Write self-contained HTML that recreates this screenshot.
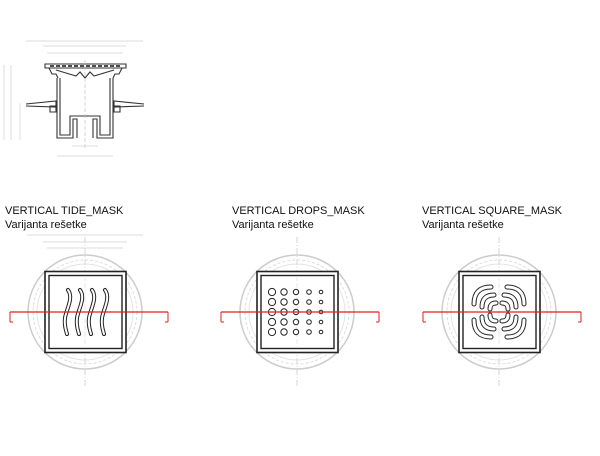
<!DOCTYPE html>
<html><head><meta charset="utf-8"><style>
html,body{margin:0;padding:0;background:#fff;}
svg{display:block;}
text{font-family:"Liberation Sans",sans-serif;}
</style></head><body>
<svg width="600" height="456" viewBox="0 0 600 456" xmlns="http://www.w3.org/2000/svg">
<defs>
<g id="plan">
  <circle cx="0" cy="0" r="57" fill="none" stroke="#ccc" stroke-width="1.5"/>
  <circle cx="0" cy="0" r="52" fill="none" stroke="#ddd" stroke-width="1" stroke-dasharray="3 2"/>
  <circle cx="0" cy="0" r="48" fill="none" stroke="#e4e4e4" stroke-width="1"/>
  <line x1="0" y1="-75" x2="0" y2="75" stroke="#ccc" stroke-width="0.8" stroke-dasharray="6 2 1 2"/>
  <rect x="-40" y="-40.5" width="81" height="81" fill="#fff" stroke="#222" stroke-width="1.6"/>
  <rect x="-36" y="-36.5" width="73" height="73" fill="none" stroke="#222" stroke-width="1.4"/>
  <line x1="0" y1="-36" x2="0" y2="36" stroke="#ddd" stroke-width="0.6" stroke-dasharray="5 2"/>
</g>
<g id="red">
  <line x1="-75" y1="0" x2="83" y2="0" stroke="#d22" stroke-width="1.2"/>
  <path d="M-75 0 v10 M-75 10 h3 M83 0 v10 M83 10 h-3" stroke="#d22" stroke-width="1" fill="none"/>
</g>
</defs>

<!-- section drawing -->
<g stroke="#333" fill="none" stroke-width="1.1">
  <line x1="26" y1="41" x2="143" y2="41" stroke="#bbb" stroke-width="0.5"/>
  <line x1="43" y1="46" x2="126" y2="46" stroke="#bbb" stroke-width="0.5"/>
  <line x1="47" y1="53" x2="123" y2="53" stroke="#bbb" stroke-width="0.5"/>
  <line x1="57" y1="156" x2="113" y2="156" stroke="#bbb" stroke-width="0.5"/>
  <line x1="72" y1="146" x2="98" y2="146" stroke="#bbb" stroke-width="0.5"/>
  <line x1="4" y1="65" x2="4" y2="140" stroke="#bbb" stroke-width="0.5"/>
  <line x1="11" y1="65" x2="11" y2="140" stroke="#bbb" stroke-width="0.5"/>
  <line x1="20" y1="103" x2="20" y2="140" stroke="#bbb" stroke-width="0.5"/>
  <path d="M45 64 h81 v4 h-81 z"/>
  <path d="M49 68 l3 6 h4 l2 4 M122 68 l-3 6 h-4 l-2 4"/>
  <path d="M56 70 l20 6 l4 -4 l5 6 l5 -6 l4 4 l20 -6" />
  <path d="M50 66 h70" stroke-dasharray="4 2" stroke-width="1.8"/>
  <path d="M57 78 v40 M113 78 v40 M60 78 v40 M110 78 v40"/>
  <path d="M26 104 l30 -3 v6 l-30 -1 M144 104 l-30 -3 v6 l30 -1"/>
  <path d="M50 106 h6 v6 h-6 z M114 106 h6 v6 h-6 z"/>
  <path d="M57 118 v20 h16 v-19 h4 v19 M113 118 v20 h-16 v-19 h-4 v19"/>
  <path d="M60 118 v17 h10 v-19 h30 v19 h10 v-17"/>
  <line x1="85" y1="60" x2="85" y2="150" stroke="#bbb" stroke-dasharray="4 2" stroke-width="0.6"/>
</g>

<!-- titles -->
<g font-size="11" fill="#111">
  <text x="5" y="214">VERTICAL TIDE_MASK</text>
  <text x="5" y="228">Varijanta rešetke</text>
  <text x="232" y="214">VERTICAL DROPS_MASK</text>
  <text x="232" y="228">Varijanta rešetke</text>
  <text x="422" y="214">VERTICAL SQUARE_MASK</text>
  <text x="422" y="228">Varijanta rešetke</text>
</g>

<!-- plan 1 -->
<g transform="translate(85,312)">
  <g stroke="#bbb" stroke-width="0.5"><line x1="-58" y1="-77" x2="58" y2="-77"/><line x1="-42" y1="-70" x2="42" y2="-70"/><line x1="-38" y1="-64" x2="38" y2="-64"/></g>
  <use href="#plan"/>
  <g fill="none" stroke="#222" stroke-width="4" stroke-linecap="round">
    <path id="w" d="M-17 -22 c6 8 -2 20 -3 28 c-1 8 1 12 2 16"/>
    <use href="#w" transform="translate(12,0)"/><use href="#w" transform="translate(24,0)"/><use href="#w" transform="translate(37,0)"/>
  </g>
  <g fill="none" stroke="#fff" stroke-width="2" stroke-linecap="round">
    <use href="#w"/><use href="#w" transform="translate(12,0)"/><use href="#w" transform="translate(24,0)"/><use href="#w" transform="translate(37,0)"/>
  </g>
  <use href="#red"/>
</g>

<!-- plan 2 -->
<g transform="translate(297,312)">
  <use href="#plan"/>
  <g fill="none" stroke="#222" stroke-width="1">
    <g><circle cx="-25" cy="-20" r="3.6"/><circle cx="-25" cy="-10" r="3.6"/><circle cx="-25" cy="0" r="3.6"/><circle cx="-25" cy="10" r="3.6"/><circle cx="-25" cy="20" r="3.6"/></g>
    <g transform="translate(12,0)"><circle cx="-25" cy="-20" r="3.2"/><circle cx="-25" cy="-10" r="3.2"/><circle cx="-25" cy="0" r="3.2"/><circle cx="-25" cy="10" r="3.2"/><circle cx="-25" cy="20" r="3.2"/></g>
    <g transform="translate(24,0)"><circle cx="-25" cy="-20" r="2.7"/><circle cx="-25" cy="-10" r="2.7"/><circle cx="-25" cy="0" r="2.7"/><circle cx="-25" cy="10" r="2.7"/><circle cx="-25" cy="20" r="2.7"/></g>
    <g transform="translate(37,0)"><circle cx="-25" cy="-20" r="2.3"/><circle cx="-25" cy="-10" r="2.3"/><circle cx="-25" cy="0" r="2.3"/><circle cx="-25" cy="10" r="2.3"/><circle cx="-25" cy="20" r="2.3"/></g>
    <g transform="translate(49,0)"><circle cx="-25" cy="-20" r="1.8"/><circle cx="-25" cy="-10" r="1.8"/><circle cx="-25" cy="0" r="1.8"/><circle cx="-25" cy="10" r="1.8"/><circle cx="-25" cy="20" r="1.8"/></g>
  </g>
  <use href="#red" transform="translate(-1,0)"/>
</g>

<!-- plan 3 -->
<g transform="translate(499,312)">
  <use href="#plan"/>
  <g id="q">
    <g fill="none" stroke="#222" stroke-width="5" stroke-linecap="round">
      <path d="M-25 -8 Q-25 -25 -8 -25"/>
      <path d="M-17 -5 Q-17 -17 -5 -17"/>
      <path d="M-9 -3 Q-9 -9 -3 -9"/>
    </g>
    <g fill="none" stroke="#fff" stroke-width="3" stroke-linecap="round">
      <path d="M-25 -8 Q-25 -25 -8 -25"/>
      <path d="M-17 -5 Q-17 -17 -5 -17"/>
      <path d="M-9 -3 Q-9 -9 -3 -9"/>
    </g>
  </g>
  <use href="#q" transform="scale(-1,1)"/>
  <use href="#q" transform="scale(1,-1)"/>
  <use href="#q" transform="scale(-1,-1)"/>
  <use href="#red" transform="translate(-1,0)"/>
</g>
</svg>
</body></html>
